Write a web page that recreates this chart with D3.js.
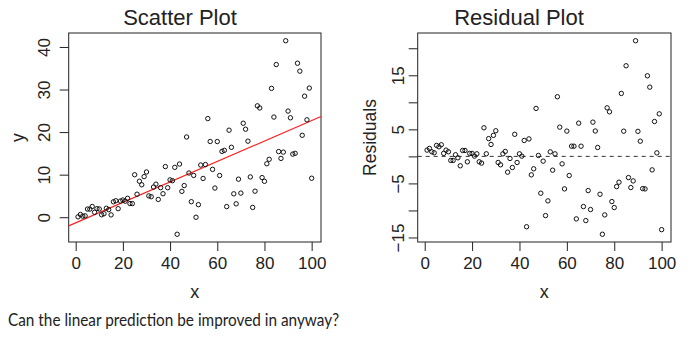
<!DOCTYPE html>
<html>
<head>
<meta charset="utf-8">
<script src="https://cdn.jsdelivr.net/npm/d3@7"></script>
<style>
  body { margin: 0; background: #fff; }
  svg { display: block; }
</style>
</head>
<body>
<svg id="chart" width="695" height="339"></svg>
<script>
// data
const xValues = [
  1, 2, 3, 4, 5, 6, 7, 8, 9, 10, 11, 12, 13, 14, 15, 16, 17, 18, 19, 20,
  21, 22, 23, 24, 25, 26, 27, 28, 29, 30, 31, 32, 33, 34, 35, 36, 37, 38, 39, 40,
  41, 42, 43, 44, 45, 46, 47, 48, 49, 50, 51, 52, 53, 54, 55, 56, 57, 58, 59, 60,
  61, 62, 63, 64, 65, 66, 67, 68, 69, 70, 71, 72, 73, 74, 75, 76, 77, 78, 79, 80,
  81, 82, 83, 84, 85, 86, 87, 88, 89, 90, 91, 92, 93, 94, 95, 96, 97, 98, 99, 100
];
const yValues = [
  0.09, 0.64, 0.26, 0.32, 1.92, 1.91, 2.52, 1.16, 2.01, 1.94,
  0.58, 0.82, 2.11, 1.79, 0.55, 3.63, 3.87, 2.01, 3.80, 4.04,
  3.78, 4.45, 3.21, 3.21, 9.98, 5.41, 8.46, 7.62, 9.54, 10.63,
  5.01, 4.82, 7.09, 7.77, 4.18, 6.95, 5.52, 11.90, 6.93, 8.77,
  8.58, 11.72, -4.00, 12.49, 6.08, 7.44, 18.85, 10.39, 3.65, 9.82,
  -0.01, 2.95, 12.26, 9.11, 12.37, 23.17, 17.79, 11.24, 6.85, 17.78,
  9.80, 15.47, 15.71, 2.50, 20.45, 16.43, 5.50, 3.15, 8.94, 5.67,
  22.08, 20.68, 17.87, 9.46, 2.30, 6.12, 26.17, 25.67, 9.31, 8.44,
  12.56, 13.61, 30.27, 23.53, 35.87, 15.43, 13.82, 15.29, 41.46, 24.94,
  23.36, 14.83, 15.01, 36.18, 34.32, 19.25, 28.44, 22.88, 30.34, 9.16
];
const xTicks = [0, 20, 40, 60, 80, 100];
const yTicks = [0, 10, 20, 30, 40];
const residTicks = [-15, -10, -5, 0, 5, 10, 15, 20];
const residLabels = [-15, -5, 5, 15];
const titles = ['Scatter Plot', 'Residual Plot'];
const axisTitles = ['x', 'y', 'Residuals'];
const question = 'Can the linear prediction be improved in anyway?';

// least squares fit + residuals
const mx = d3.mean(xValues), my = d3.mean(yValues);
const slope = d3.sum(xValues, (x, i) => (x - mx) * (yValues[i] - my)) /
              d3.sum(xValues, x => (x - mx) * (x - mx));
const intercept = my - slope * mx;
const fit = x => intercept + slope * x;
const residuals = yValues.map((y, i) => y - fit(xValues[i]));

// R style 4% padding on the data range
function padded(vals) {
  const [lo, hi] = d3.extent(vals);
  const p = (hi - lo) * 0.04;
  return [lo - p, hi + p];
}

const font = '"Liberation Sans", Arial, Helvetica, sans-serif';
const ink = '#222';
const svg = d3.select('#chart');

const plotTop = 33, plotBottom = 242;

function drawPanel(left, right, yVals, ticksY, labelsY, title, titleX, yTitle, yTitleX, labelGap) {
  const x = d3.scaleLinear().domain(padded(xValues)).range([left, right]);
  const y = d3.scaleLinear().domain(padded(yVals)).range([plotBottom, plotTop]);
  const g = svg.append('g');

  // x axis
  const gx = g.append('g')
    .attr('transform', `translate(0,${plotBottom})`)
    .call(d3.axisBottom(x).tickValues(xTicks).tickSize(9).tickPadding(6));
  gx.select('.domain').remove();
  gx.selectAll('.tick line').attr('stroke', ink);
  gx.selectAll('.tick text')
    .attr('fill', ink).style('font-family', font).style('font-size', '17px');

  // y axis, labels parallel to axis
  const gy = g.append('g')
    .attr('transform', `translate(${left},0)`)
    .call(d3.axisLeft(y).tickValues(ticksY).tickSize(9)
      .tickFormat(d => labelsY.includes(d) ? d3.format('d')(d) : ''));
  gy.select('.domain').remove();
  gy.selectAll('.tick line').attr('stroke', ink);
  gy.selectAll('.tick text')
    .attr('x', null).attr('dy', null)
    .attr('text-anchor', 'middle')
    .attr('transform', `translate(${-labelGap},0) rotate(-90)`)
    .attr('fill', ink).style('font-family', font).style('font-size', '17px');

  // box
  g.append('rect')
    .attr('x', left).attr('y', plotTop)
    .attr('width', right - left).attr('height', plotBottom - plotTop)
    .attr('fill', 'none').attr('stroke', ink).attr('stroke-width', 1);

  // titles
  g.append('text').attr('x', titleX).attr('y', 25)
    .attr('text-anchor', 'middle').attr('fill', ink)
    .style('font-family', font).style('font-size', '22px').text(title);
  g.append('text').attr('x', (left + right) / 2).attr('y', 298)
    .attr('text-anchor', 'middle').attr('fill', ink)
    .style('font-family', font).style('font-size', '18px').text(axisTitles[0]);
  g.append('text')
    .attr('transform', `translate(${yTitleX},${(plotTop + plotBottom) / 2}) rotate(-90)`)
    .attr('text-anchor', 'middle').attr('fill', ink)
    .style('font-family', font).style('font-size', '17.5px').text(yTitle);

  return { g, x, y };
}

// scatter plot
const p1 = drawPanel(68.7, 321, yValues, yTicks, yTicks, titles[0], 180, axisTitles[1], 23.5, 18.5);
p1.g.append('line')
  .attr('x1', p1.x.range()[0]).attr('y1', p1.y(fit(p1.x.domain()[0])))
  .attr('x2', p1.x.range()[1]).attr('y2', p1.y(fit(p1.x.domain()[1])))
  .attr('stroke', '#ff2020').attr('stroke-width', 1.2);
p1.g.selectAll('circle.pt')
  .data(xValues)
  .join('circle')
    .attr('class', 'pt')
    .attr('cx', d => p1.x(d))
    .attr('cy', (d, i) => p1.y(yValues[i]))
    .attr('r', 2.2)
    .attr('fill', 'none').attr('stroke', '#111').attr('stroke-width', 1);

// residual plot
const p2 = drawPanel(417.7, 671, residuals, residTicks, residLabels, titles[1], 519, axisTitles[2], 376, 13.5);
p2.g.append('line')
  .attr('x1', p2.x.range()[0]).attr('x2', p2.x.range()[1])
  .attr('y1', p2.y(0)).attr('y2', p2.y(0))
  .attr('stroke', '#333').attr('stroke-width', 1).attr('stroke-dasharray', '4,4');
p2.g.selectAll('circle.pt')
  .data(xValues)
  .join('circle')
    .attr('class', 'pt')
    .attr('cx', d => p2.x(d))
    .attr('cy', (d, i) => p2.y(residuals[i]))
    .attr('r', 2.2)
    .attr('fill', 'none').attr('stroke', '#111').attr('stroke-width', 1);

// question under the plots
svg.append('text')
  .attr('x', 8).attr('y', 326)
  .attr('fill', ink)
  .attr('textLength', 331)
  .attr('lengthAdjust', 'spacingAndGlyphs')
  .style('font-family', 'Lato, "Open Sans", sans-serif')
  .style('font-size', '17px')
  .text(question);
</script>
</body>
</html>
